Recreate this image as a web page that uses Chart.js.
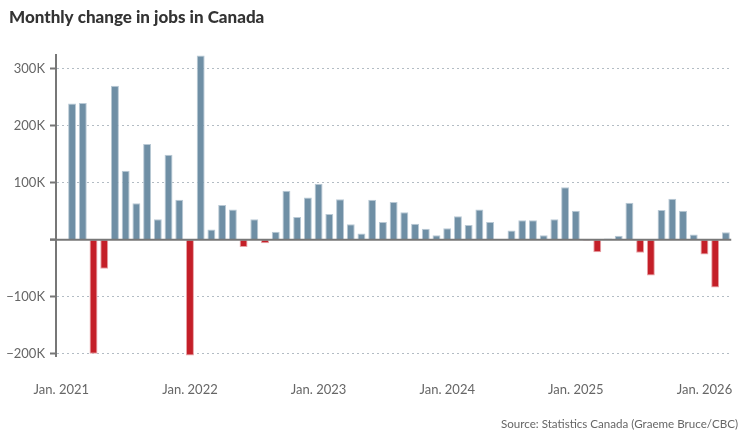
<!DOCTYPE html>
<html>
<head>
<meta charset="utf-8">
<script src="https://cdn.jsdelivr.net/npm/chart.js@4"></script>
<style>
  html, body { margin: 0; padding: 0; background: #fff; }
  #wrap { position: relative; width: 752px; height: 432px; }
</style>
</head>
<body>
<div id="wrap"><canvas id="empleos"></canvas></div>
<script>
// monthly change in jobs, thousands (Jan 2021 .. Mar 2026)
const valores = [
  null, 239, 240, -200, -51, 270, 121, 64, 168, 36, 149, 70,
  -203, 323, 18, 61, 53, -13, 36, -6, 14, 86, 40, 74,
  98, 45, 71, 27, 11, 70, 31, 66, 48, 28, 19, 8,
  20, 41, 26, 53, 31, 0, 16, 34, 34, 8, 36, 92,
  51, -2, -22, 2, 7, 65, -23, -63, 52, 72, 51, 9,
  -26, -84, 13
];
const anios = [2021, 2022, 2023, 2024, 2025, 2026];
const etiquetasX = ['Jan. 2021', 'Jan. 2022', 'Jan. 2023', 'Jan. 2024', 'Jan. 2025', 'Jan. 2026'];
const ticksY = [-200, -100, 0, 100, 200, 300];

const meses = [];
anios.forEach(a => {
  for (let m = 1; m <= 12; m++) meses.push(a + '-' + String(m).padStart(2, '0'));
});
const categorias = meses.slice(0, valores.length);

const AZUL = '#6f8fa5', AZUL_BORDE = '#b9c9d5';
const ROJO = '#c41f28', ROJO_BORDE = '#e8a2a6';

// title, source and zero line
const extras = {
  id: 'extras',
  afterDatasetsDraw(chart) {
    const { ctx, chartArea, scales } = chart;
    const y0 = scales.y.getPixelForValue(0);
    ctx.save();
    ctx.strokeStyle = '#777';
    ctx.lineWidth = 2;
    ctx.beginPath();
    ctx.moveTo(50, y0);
    ctx.lineTo(chartArea.right, y0);
    ctx.stroke();
    ctx.restore();
  },
  afterDraw(chart) {
    const ctx = chart.ctx;
    ctx.save();
    ctx.fillStyle = '#333';
    ctx.font = '900 17px Lato';
    ctx.textBaseline = 'alphabetic';
    ctx.textAlign = 'left';
    ctx.fillText('Monthly change in jobs in Canada', 9, 23);
    ctx.fillStyle = '#666';
    ctx.font = '11.6px Lato';
    ctx.textAlign = 'right';
    ctx.fillText('Source: Statistics Canada (Graeme Bruce/CBC)', 738, 428);
    ctx.restore();
  }
};

const ctx = document.getElementById('empleos').getContext('2d');
const grafica = new Chart(ctx, {
  type: 'bar',
  data: {
    labels: categorias,
    datasets: [{
      data: valores,
      backgroundColor: valores.map(v => v < 0 ? ROJO : AZUL),
      borderColor: valores.map(v => v < 0 ? ROJO_BORDE : AZUL_BORDE),
      borderWidth: 1,
      categoryPercentage: 1,
      barPercentage: 0.74
    }]
  },
  options: {
    responsive: true,
    maintainAspectRatio: false,
    animation: false,
    layout: { padding: { top: 55, right: 15, bottom: 0, left: 0 } },
    plugins: {
      legend: { display: false },
      tooltip: { enabled: false }
    },
    scales: {
      x: {
        grid: { display: false, drawTicks: false },
        border: { display: false },
        ticks: {
          autoSkip: false,
          maxRotation: 0,
          padding: 26,
          color: '#666',
          font: { family: 'Lato', size: 13 },
          callback: function(val, i) {
            return i % 12 === 0 ? etiquetasX[i / 12] : '';
          }
        },
        afterFit(scale) { scale.height = 76; }
      },
      y: {
        min: -204,
        max: 324,
        afterBuildTicks(scale) {
          scale.ticks = ticksY.map(v => ({ value: v }));
        },
        afterFit(scale) { scale.width = 56; },
        grid: {
          color: c => c.tick && c.tick.value === 0 ? 'rgba(0,0,0,0)' : '#b3bcc4',
          lineWidth: 1,
          tickLength: 6,
          tickColor: '#777',
          tickWidth: 2
        },
        border: { color: '#777', width: 2, dash: [2, 3] },
        ticks: {
          padding: 5,
          color: '#666',
          font: { family: 'Lato', size: 13 },
          callback: v => v === 0 ? '' : (v < 0 ? '\u2212' : '') + Math.abs(v) + 'K'
        }
      }
    }
  },
  plugins: [extras]
});
</script>
</body>
</html>
